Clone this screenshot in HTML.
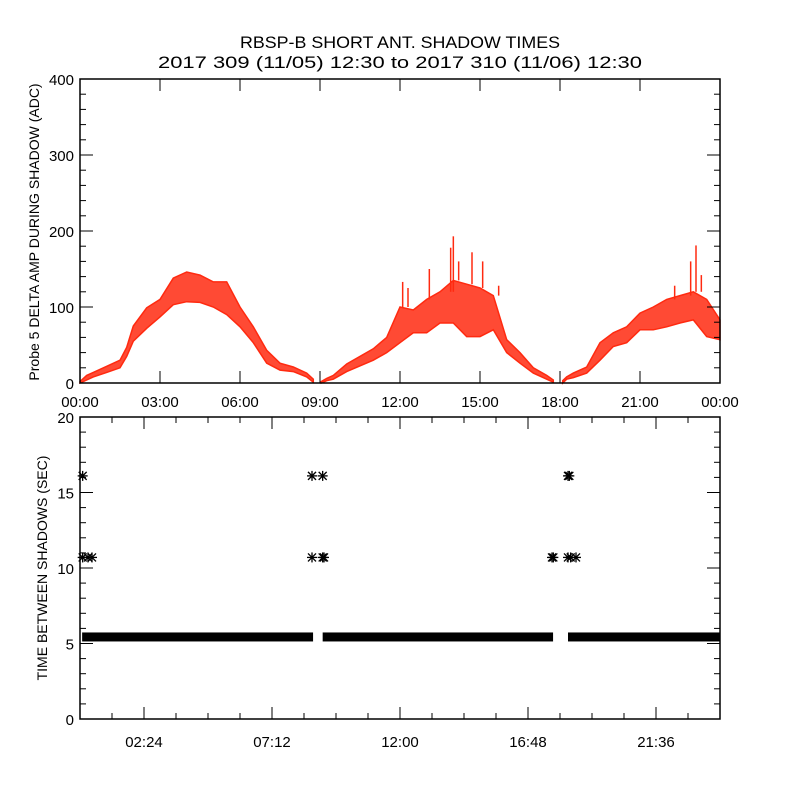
<!DOCTYPE html>
<html><head><meta charset="utf-8"><style>
html,body{margin:0;padding:0;background:#fff}
svg{display:block}
text{font-family:"Liberation Sans",sans-serif;fill:#000}
</style></head><body>
<svg id="chart" width="800" height="800" viewBox="0 0 800 800">
<text x="400" y="48" font-size="17" font-weight="normal" text-anchor="middle" textLength="320" lengthAdjust="spacingAndGlyphs">RBSP-B SHORT ANT. SHADOW TIMES</text>
<text x="400" y="68" font-size="17" text-anchor="middle" textLength="484" lengthAdjust="spacingAndGlyphs">2017 309 (11/05) 12:30 to 2017 310 (11/06) 12:30</text>
<g id="topPanel"></g>
<g id="botPanel"></g>
</svg>
<script>
// ---- top panel data (hours, low/high envelope in ADC) ----
const ampHours = [0,0.25,0.5,1,1.5,1.75,2,2.5,3,3.5,4,4.5,5,5.5,6,6.5,7,7.5,8,8.5,8.75,
  9.05,9.25,9.5,10,11,11.5,12,12.5,13,13.5,14,14.5,15,15.5,16,16.5,17,17.5,17.75,
  18.1,18.25,18.5,19,19.5,20,20.5,21,21.5,22,22.5,23,23.5,24];
const ampLow  = [0,4,8,14,20,35,55,72,87,103,107,106,100,90,74,53,26,17,15,8,1,
  0,3,5,15,30,40,53,66,66,79,79,61,61,70,40,26,13,5,1,
  0,5,7,13,30,48,53,70,70,74,79,83,61,57];
const ampHigh = [2,10,14,22,30,47,75,99,110,138,146,142,133,133,100,74,43,26,21,13,5,
  2,6,10,25,45,60,100,96,110,120,135,130,125,115,57,40,20,10,4,
  3,8,13,21,53,66,74,92,100,110,115,120,110,83];
const spikeHours = [12.1,12.3,13.1,13.9,14.0,14.2,14.7,15.1,15.7,22.3,22.9,23.1,23.3];
const spikeVals  = [133,125,150,178,193,160,172,160,128,128,160,181,142];
const ampTicks = [0,100,200,300,400];
const topXTicks = ["00:00","03:00","06:00","09:00","12:00","15:00","18:00","21:00","00:00"];
// ---- bottom panel data ----
const segStart = [0.08,9.1,18.3];
const segEnd   = [8.74,17.74,24];
const segVal   = [5.4,5.4,5.4];
const starHours = [0.1,0.1,0.3,0.45,8.7,8.7,9.1,9.1,9.15,17.7,17.75,18.3,18.35,18.3,18.4,18.6];
const starVals  = [16.1,10.7,10.7,10.7,16.1,10.7,16.1,10.7,10.7,10.7,10.7,16.1,16.1,10.7,10.7,10.7];
const botTicks = [0,5,10,15,20];
const botXTicks = ["02:24","07:12","12:00","16:48","21:36"];
const botXTickHours = [2.4,7.2,12,16.8,21.6];

const NS="http://www.w3.org/2000/svg";
function mk(parent,tag,attrs){const e=document.createElementNS(NS,tag);for(const k in attrs)e.setAttribute(k,attrs[k]);parent.appendChild(e);return e;}
const X0=80,X1=720;
const xs=h=>X0+(X1-X0)*h/24;
// top panel
const T0=383,T1=79;
const ys=v=>T0-(T0-T1)*v/400;
const topG=document.getElementById('topPanel');
function band(a,b,name){
  let p=[];
  for(let i=a;i<=b;i++)p.push(xs(ampHours[i]).toFixed(1)+","+ys(ampHigh[i]).toFixed(1));
  for(let i=b;i>=a;i--)p.push(xs(ampHours[i]).toFixed(1)+","+ys(ampLow[i]).toFixed(1));
  const e=mk(topG,'polygon',{points:p.join(" "),fill:"#ff2a10","fill-opacity":"0.85",stroke:"#ff2a10","stroke-width":"1.5"});
  
  
}
band(0,20,'amp-band-1');band(21,39,'amp-band-2');band(40,ampHours.length-1,'amp-band-3');
for(let i=0;i<spikeHours.length;i++){
  let h=spikeHours[i],j=0;while(j<ampHours.length-1&&ampHours[j+1]<h)j++;
  const e=mk(topG,'line',{x1:xs(h),x2:xs(h),y1:ys(spikeVals[i]),y2:ys(ampHigh[j]),stroke:"#ff2a10","stroke-width":"1.5"});
  
  
}
const tf=mk(topG,'rect',{x:X0,y:T1,width:X1-X0,height:T0-T1,fill:"none",stroke:"#000","stroke-width":"1.5"});


for(let v=0;v<=400;v+=20){
  const L=(v%100===0)?13:6;
  mk(topG,'line',{x1:X0,x2:X0+L,y1:ys(v),y2:ys(v),stroke:"#000"});
  mk(topG,'line',{x1:X1,x2:X1-L,y1:ys(v),y2:ys(v),stroke:"#000"});
}
ampTicks.forEach(v=>{
  const t=mk(topG,'text',{x:X0-6,y:ys(v)+6,"font-size":"15","text-anchor":"end"});t.textContent=v;
  
  
});
topXTicks.forEach((s,i)=>{
  const h=i*3;
  mk(topG,'line',{x1:xs(h),x2:xs(h),y1:T0,y2:T0-12,stroke:"#000"});
  mk(topG,'line',{x1:xs(h),x2:xs(h),y1:T1,y2:T1+12,stroke:"#000"});
  const t=mk(topG,'text',{x:xs(h),y:407,"font-size":"15","text-anchor":"middle"});t.textContent=s;
  
  
});
const yt=mk(topG,'text',{x:0,y:0,"font-size":"14","text-anchor":"middle",transform:"translate(39,232) rotate(-90)"});
yt.textContent="Probe 5 DELTA AMP DURING SHADOW (ADC)";



// bottom panel
const B0=719,B1=417;
const yb=v=>B0-(B0-B1)*v/20;
const botG=document.getElementById('botPanel');
for(let i=0;i<segStart.length;i++){
  const e=mk(botG,'rect',{x:xs(segStart[i]),y:yb(segVal[i])-5,width:xs(segEnd[i])-xs(segStart[i]),height:9,fill:"#000"});
  
  
}
for(let i=0;i<starHours.length;i++){
  const g=mk(botG,'g',{transform:`translate(${xs(starHours[i])},${yb(starVals[i])})`,stroke:"#000","stroke-width":"1.3"});
  
  
  mk(g,'line',{x1:-5,x2:5,y1:0,y2:0});mk(g,'line',{x1:0,x2:0,y1:-5,y2:5});
  mk(g,'line',{x1:-4,x2:4,y1:-4,y2:4});mk(g,'line',{x1:-4,x2:4,y1:4,y2:-4});
}
const bf=mk(botG,'rect',{x:X0,y:B1,width:X1-X0,height:B0-B1,fill:"none",stroke:"#000","stroke-width":"1.5"});


for(let v=0;v<=20;v++){
  const L=(v%5===0)?13:6;
  mk(botG,'line',{x1:X0,x2:X0+L,y1:yb(v),y2:yb(v),stroke:"#000"});
  mk(botG,'line',{x1:X1,x2:X1-L,y1:yb(v),y2:yb(v),stroke:"#000"});
}
botTicks.forEach(v=>{
  const t=mk(botG,'text',{x:X0-6,y:yb(v)+6,"font-size":"15","text-anchor":"end"});t.textContent=v;
  
  
});
for(let h=1.2;h<24;h+=1.2){
  mk(botG,'line',{x1:xs(h),x2:xs(h),y1:B0,y2:B0-6,stroke:"#000"});
  mk(botG,'line',{x1:xs(h),x2:xs(h),y1:B1,y2:B1+6,stroke:"#000"});
}
botXTicks.forEach((s,i)=>{
  const h=botXTickHours[i];
  mk(botG,'line',{x1:xs(h),x2:xs(h),y1:B0,y2:B0-12,stroke:"#000"});
  mk(botG,'line',{x1:xs(h),x2:xs(h),y1:B1,y2:B1+12,stroke:"#000"});
  const t=mk(botG,'text',{x:xs(h),y:747,"font-size":"15","text-anchor":"middle"});t.textContent=s;
  
  
});
const by=mk(botG,'text',{x:0,y:0,"font-size":"14","text-anchor":"middle",transform:"translate(47,568) rotate(-90)"});
by.textContent="TIME BETWEEN SHADOWS (SEC)";


</script>
</body></html>
